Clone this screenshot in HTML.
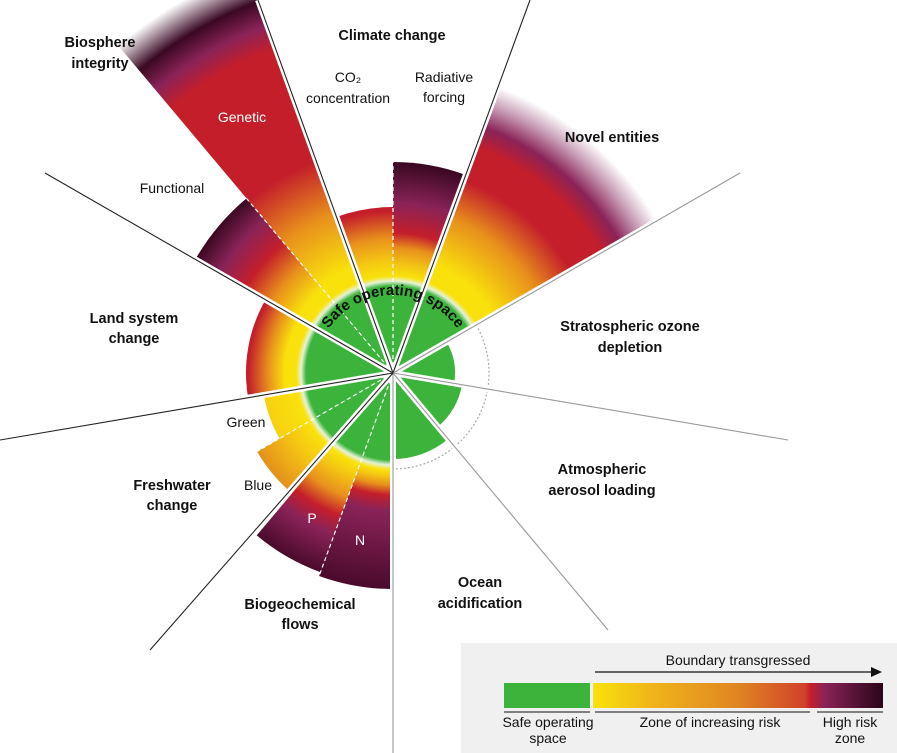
<!DOCTYPE html>
<html><head><meta charset="utf-8"><style>
html,body{margin:0;padding:0;background:#fff;overflow:hidden;width:897px;height:753px;}
svg{display:block;font-family:"Liberation Sans",sans-serif;}
.b{font-weight:bold;font-size:14.5px;fill:#111;}
.r{font-size:14px;fill:#111;}
.w{font-size:14px;fill:#fff;}
</style></head><body>
<svg id="s" width="897" height="753" viewBox="0 0 897 753" xmlns="http://www.w3.org/2000/svg" overflow="hidden">
<defs id="d">
<linearGradient id="lg" x1="0" x2="1" y1="0" y2="0">
<stop offset="0" stop-color="#f9e20c"/><stop offset="0.2" stop-color="#f0b51a"/><stop offset="0.5" stop-color="#e08522"/><stop offset="0.73" stop-color="#d0422a"/><stop offset="0.75" stop-color="#c41e2b"/><stop offset="0.8" stop-color="#8a2358"/><stop offset="1" stop-color="#2a0518"/>
</linearGradient>
</defs>
<g id="g"></g>
<g id="lab">
<text class="b" x="392" y="40" text-anchor="middle">Climate change</text>
<text class="r" x="348" y="82" text-anchor="middle">CO₂</text>
<text class="r" x="348" y="103" text-anchor="middle">concentration</text>
<text class="r" x="444" y="82" text-anchor="middle">Radiative</text>
<text class="r" x="444" y="102" text-anchor="middle">forcing</text>
<text class="b" x="612" y="142" text-anchor="middle">Novel entities</text>
<text class="b" x="630" y="331" text-anchor="middle">Stratospheric ozone</text>
<text class="b" x="630" y="352" text-anchor="middle">depletion</text>
<text class="b" x="602" y="474" text-anchor="middle">Atmospheric</text>
<text class="b" x="602" y="495" text-anchor="middle">aerosol loading</text>
<text class="b" x="480" y="587" text-anchor="middle">Ocean</text>
<text class="b" x="480" y="608" text-anchor="middle">acidification</text>
<text class="b" x="300" y="609" text-anchor="middle">Biogeochemical</text>
<text class="b" x="300" y="629" text-anchor="middle">flows</text>
<text class="w" x="312" y="523" text-anchor="middle">P</text>
<text class="w" x="360" y="545" text-anchor="middle">N</text>
<text class="b" x="172" y="490" text-anchor="middle">Freshwater</text>
<text class="b" x="172" y="510" text-anchor="middle">change</text>
<text class="r" x="246" y="427" text-anchor="middle">Green</text>
<text class="r" x="258" y="490" text-anchor="middle">Blue</text>
<text class="b" x="134" y="323" text-anchor="middle">Land system</text>
<text class="b" x="134" y="343" text-anchor="middle">change</text>
<text class="r" x="172" y="193" text-anchor="middle">Functional</text>
<text class="w" x="242" y="122" text-anchor="middle">Genetic</text>
<text class="b" x="100" y="47" text-anchor="middle">Biosphere</text>
<text class="b" x="100" y="68" text-anchor="middle">integrity</text>
</g>
<rect x="461" y="643" width="436" height="110" fill="#f0f0f0"/>
<text class="r" x="738" y="665" text-anchor="middle" font-size="13.5">Boundary transgressed</text>
<line x1="595" y1="672" x2="872" y2="672" stroke="#111" stroke-width="1.2"/>
<polygon points="882,672 871,667 871,677" fill="#111"/>
<rect x="504" y="683" width="86" height="25" fill="#3cb43c"/>
<rect x="593" y="683" width="290" height="25" fill="url(#lg)"/>
<line x1="504" y1="712" x2="590" y2="712" stroke="#111"/>
<line x1="595" y1="712" x2="810" y2="712" stroke="#111"/>
<line x1="817" y1="712" x2="883" y2="712" stroke="#111"/>
<text class="r" x="548" y="727" text-anchor="middle" font-size="13.5">Safe operating</text>
<text class="r" x="548" y="743" text-anchor="middle" font-size="13.5">space</text>
<text class="r" x="710" y="727" text-anchor="middle" font-size="13.5">Zone of increasing risk</text>
<text class="r" x="850" y="727" text-anchor="middle" font-size="13.5">High risk</text>
<text class="r" x="850" y="743" text-anchor="middle" font-size="13.5">zone</text>
</svg>
<script>
var NS="http://www.w3.org/2000/svg",cx=393,cy=373,d=document.getElementById('d'),g=document.getElementById('g');
function P(r,a){a=a*Math.PI/180;return [(cx+r*Math.sin(a)).toFixed(2),(cy-r*Math.cos(a)).toFixed(2)];}
function wedge(a1,a2,R){var p1=P(R,a1),p2=P(R,a2);return "M"+cx+","+cy+"L"+p1+"A"+R+","+R+" 0 0,1 "+p2+"Z";}
function el(t,at,par){var e=document.createElementNS(NS,t);for(var k in at)e.setAttribute(k,at[k]);(par||g).appendChild(e);return e;}
var gid=0;
function grad(R,stops){var id="rg"+(gid++);var rg=el("radialGradient",{id:id,gradientUnits:"userSpaceOnUse",cx:cx,cy:cy,r:R},d);
 stops.forEach(function(s){el("stop",{offset:Math.min(1,s[0]/R),"stop-color":s[1]},rg);});return id;}
var G="#3cb43c",Y="#f9e20c",O="#e8901c",RD="#c41e2b",PU="#8a2358",DK="#3a0822";
function base(){return [[0,G],[87,G],[92,"#e6f2d8"],[97,Y]];}
function sec(a1,a2,R,extra,GR){var st=base().concat(extra);var id=grad(GR||R,st);el("path",{d:wedge(a1,a2,R),fill:"url(#"+id+")"});}
var q1=P(96,60),q2=P(96,180);
el("path",{d:"M"+q1+"A96,96 0 0,1 "+q2,fill:"none",stroke:"#aaa","stroke-width":1.2,"stroke-dasharray":"2,2"});
sec(-20,0,166,[[112,"#f5c812"],[135,O],[162,RD]]);
sec(0,20,211,[[110,"#f2c015"],[125,O],[140,RD],[170,PU],[210,DK]]);
sec(20,60,330,[[115,Y],[165,O],[205,RD],[240,RD],[262,PU],[285,"#c9a0b8"],[305,"#fff"]]);
el("path",{d:wedge(60,100,62),fill:G});
el("path",{d:wedge(100,140,70),fill:G});
el("path",{d:wedge(140,180,86),fill:G});
sec(180,200,216,[[103,"#f5c812"],[112,O],[122,RD],[138,PU],[216,"#4a0a2c"]]);
sec(200,220,212,[[110,"#f5c812"],[132,O],[152,RD],[172,PU],[212,"#4a0a2c"]]);
sec(220,240,157,[[118,"#f6c812"],[157,"#e4901c"]]);
sec(240,260,131,[[131,"#f7d010"]]);
sec(260,300,147,[[108,Y],[125,O],[145,RD]]);
sec(300,320,228,[[110,Y],[140,O],[170,RD],[200,PU],[228,DK]]);
sec(320,340,430,[[112,Y],[170,O],[225,RD],[345,RD],[370,PU],[395,DK],[428,"#fff"]]);
[0,200,240,320].forEach(function(a){var R={0:211,200:216,240:157,320:228}[a];var p=P(R,a);el("line",{x1:cx,y1:cy,x2:p[0],y2:p[1],stroke:"#fff","stroke-width":1.2,"stroke-dasharray":"4,3"});});
var ends={"-20":[258,0],"20":[530,0],"60":[740,173],"100":[788,440],"140":[608,630],"180":[393,753],"220":[150,650],"260":[0,440],"300":[45,173]};
for(var k in ends){var e=ends[k];el("line",{x1:cx,y1:cy,x2:e[0],y2:e[1],stroke:"#fff","stroke-width":6});}
for(var k in ends){var e=ends[k];el("line",{x1:cx,y1:cy,x2:e[0],y2:e[1],stroke:(+k>=60&&+k<=180)?"#999":"#222","stroke-width":1.1});}
var ap=P(78,-80),bp=P(78,80);
el("path",{id:"arc",d:"M"+ap+"A78,78 0 0,1 "+bp,fill:"none"},d);
var t=el("text",{"font-size":"15","fill":"#111","font-family":"Liberation Sans, sans-serif","font-weight":"bold"});
var tp=el("textPath",{href:"#arc",startOffset:"50%","text-anchor":"middle"},t);tp.textContent="Safe operating space";
</script>
</body></html>
